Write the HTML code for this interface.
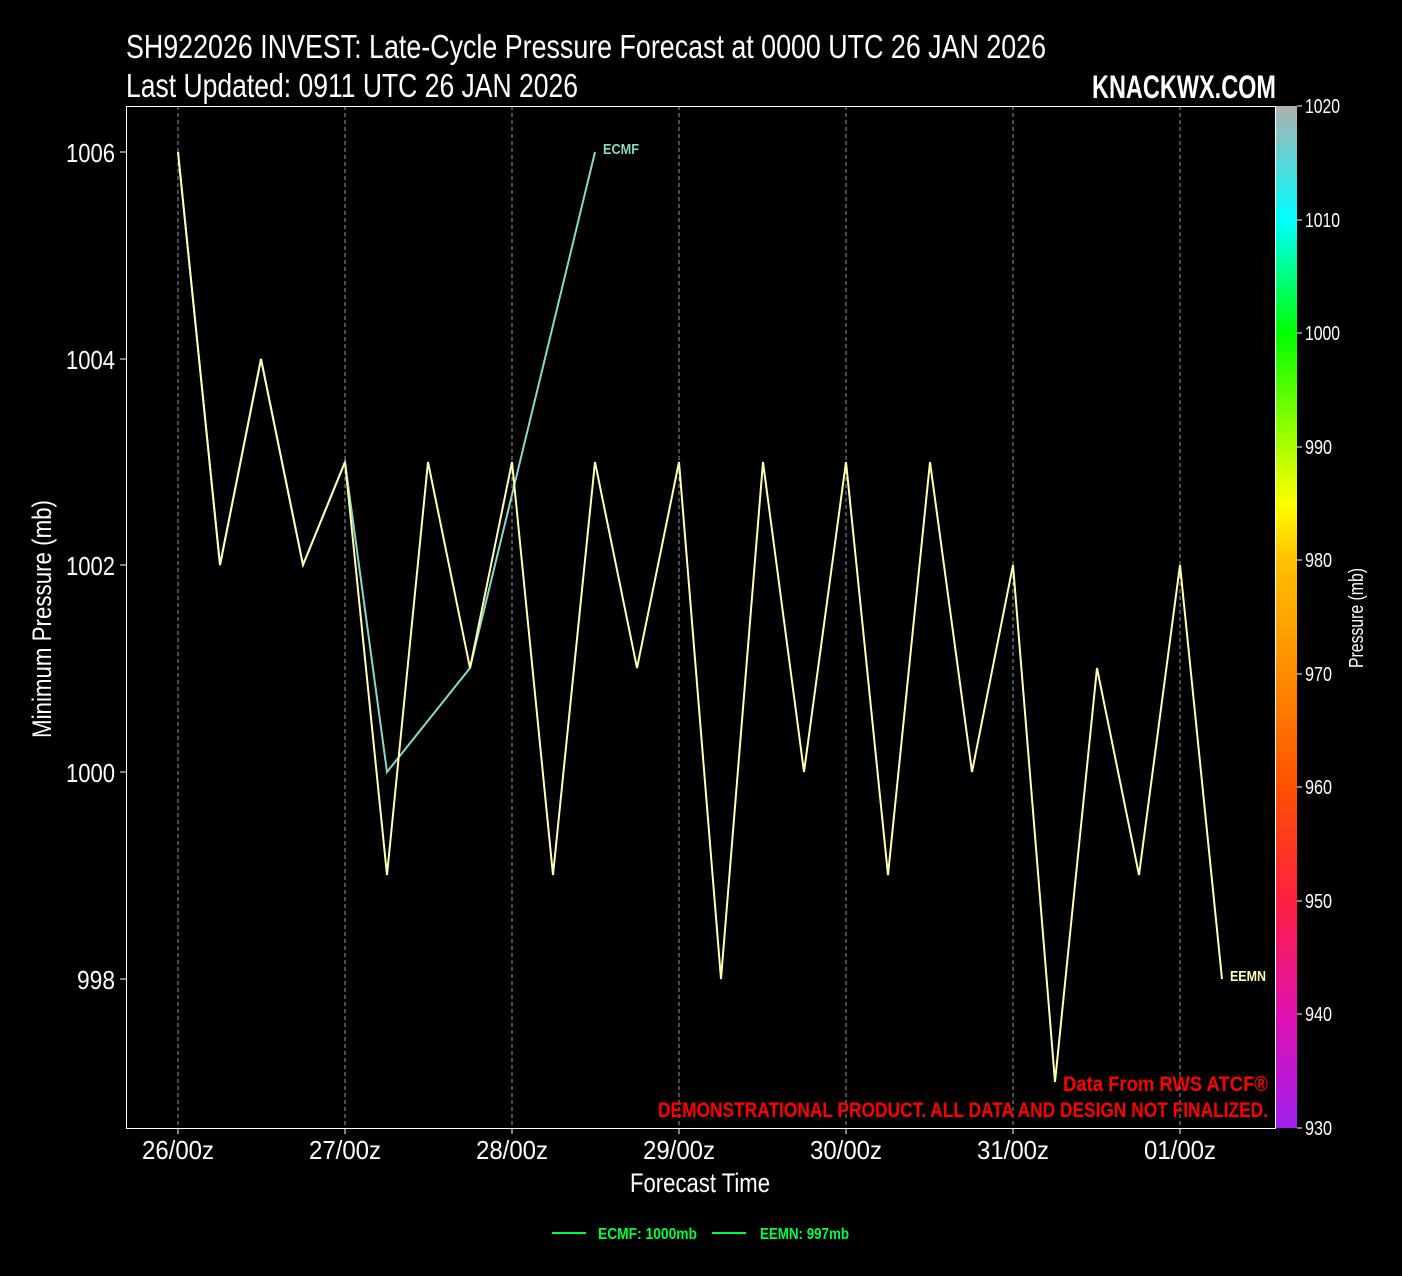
<!DOCTYPE html>
<html><head><meta charset="utf-8"><style>
html,body{margin:0;padding:0;background:#000;}
svg{display:block;}
text{font-family:"Liberation Sans Narrow","Liberation Sans",sans-serif;}
</style></head><body>
<svg width="1402" height="1276" viewBox="0 0 1402 1276" xmlns="http://www.w3.org/2000/svg">
<defs>
<linearGradient id="cb" x1="0" y1="1" x2="0" y2="0">
<stop offset="0" stop-color="#a020f0"/>
<stop offset="0.111" stop-color="#e010b0"/>
<stop offset="0.222" stop-color="#ff2040"/>
<stop offset="0.333" stop-color="#ff5000"/>
<stop offset="0.444" stop-color="#ff8c00"/>
<stop offset="0.556" stop-color="#ffc000"/>
<stop offset="0.611" stop-color="#ffff00"/>
<stop offset="0.778" stop-color="#00ff00"/>
<stop offset="0.889" stop-color="#00ffff"/>
<stop offset="1" stop-color="#b0b0b0"/>
</linearGradient>
</defs>
<rect width="1402" height="1276" fill="#000"/>
<text x="126" y="58" fill="#fff" font-size="33" textLength="920" lengthAdjust="spacingAndGlyphs">SH922026 INVEST: Late-Cycle Pressure Forecast at 0000 UTC 26 JAN 2026</text>
<text x="126" y="97" fill="#fff" font-size="33" textLength="452" lengthAdjust="spacingAndGlyphs">Last Updated: 0911 UTC 26 JAN 2026</text>
<text x="1092" y="98" fill="#fff" font-size="32" font-weight="bold" textLength="184" lengthAdjust="spacingAndGlyphs">KNACKWX.COM</text>
<g stroke="#999" stroke-dasharray="4,3" stroke-width="1">
<line x1="178" y1="106" x2="178" y2="1128"/><line x1="345" y1="106" x2="345" y2="1128"/>
<line x1="512" y1="106" x2="512" y2="1128"/><line x1="679" y1="106" x2="679" y2="1128"/>
<line x1="846" y1="106" x2="846" y2="1128"/><line x1="1013" y1="106" x2="1013" y2="1128"/>
<line x1="1180" y1="106" x2="1180" y2="1128"/>
</g>
<rect x="126.5" y="106.5" width="1149" height="1022" fill="none" stroke="#fff" stroke-width="1"/>
<g stroke="#fff"><line x1="120" y1="152" x2="126" y2="152"/><line x1="120" y1="359" x2="126" y2="359"/><line x1="120" y1="565" x2="126" y2="565"/><line x1="120" y1="772" x2="126" y2="772"/><line x1="120" y1="979" x2="126" y2="979"/>
<line x1="178" y1="1128" x2="178" y2="1134"/><line x1="345" y1="1128" x2="345" y2="1134"/><line x1="512" y1="1128" x2="512" y2="1134"/><line x1="679" y1="1128" x2="679" y2="1134"/><line x1="846" y1="1128" x2="846" y2="1134"/><line x1="1013" y1="1128" x2="1013" y2="1134"/><line x1="1180" y1="1128" x2="1180" y2="1134"/></g>
<g fill="#fff" font-size="26">
<text x="66" y="162" textLength="49" lengthAdjust="spacingAndGlyphs">1006</text><text x="66" y="369" textLength="49" lengthAdjust="spacingAndGlyphs">1004</text><text x="66" y="575" textLength="49" lengthAdjust="spacingAndGlyphs">1002</text><text x="66" y="782" textLength="49" lengthAdjust="spacingAndGlyphs">1000</text><text x="77" y="989" textLength="38" lengthAdjust="spacingAndGlyphs">998</text></g>
<g fill="#fff" font-size="26">
<text x="142" y="1159" textLength="72" lengthAdjust="spacingAndGlyphs">26/00z</text><text x="309" y="1159" textLength="72" lengthAdjust="spacingAndGlyphs">27/00z</text><text x="476" y="1159" textLength="72" lengthAdjust="spacingAndGlyphs">28/00z</text><text x="643" y="1159" textLength="72" lengthAdjust="spacingAndGlyphs">29/00z</text><text x="810" y="1159" textLength="72" lengthAdjust="spacingAndGlyphs">30/00z</text><text x="977" y="1159" textLength="72" lengthAdjust="spacingAndGlyphs">31/00z</text><text x="1144" y="1159" textLength="72" lengthAdjust="spacingAndGlyphs">01/00z</text></g>
<text x="630" y="1192" fill="#fff" font-size="27" textLength="140" lengthAdjust="spacingAndGlyphs">Forecast Time</text>
<text transform="translate(51,738) rotate(-90)" fill="#fff" font-size="27" textLength="238" lengthAdjust="spacingAndGlyphs">Minimum Pressure (mb)</text>
<polyline fill="none" stroke="#88d8c8" stroke-width="2" points="178,152 220,565 261,359 303,565 345,462 387,772 470,668 595,152"/>
<polyline fill="none" stroke="#ffffb0" stroke-width="2" points="178,152 220,565 261,359 303,565 345,462 387,875 428,462 470,668 512,462 553,875 595,462 637,668 679,462 721,979 763,462 804,772 846,462 888,875 930,462 972,772 1013,565 1055,1082 1097,668 1139,875 1180,565 1222,979"/>
<text x="603" y="154" fill="#88d8c8" font-size="15" font-weight="bold" textLength="36" lengthAdjust="spacingAndGlyphs">ECMF</text>
<text x="1230" y="981" fill="#ffffb0" font-size="15" font-weight="bold" textLength="36" lengthAdjust="spacingAndGlyphs">EEMN</text>
<g fill="#ff0000" font-size="21" font-weight="bold"><text x="1063" y="1091" textLength="205" lengthAdjust="spacingAndGlyphs">Data From RWS ATCF®</text><text x="658" y="1117" textLength="610" lengthAdjust="spacingAndGlyphs">DEMONSTRATIONAL PRODUCT. ALL DATA AND DESIGN NOT FINALIZED.</text></g>
<rect x="1276" y="106" width="21" height="1022" fill="url(#cb)"/>
<g stroke="#fff"><line x1="1297" y1="106" x2="1302" y2="106"/><line x1="1297" y1="220" x2="1302" y2="220"/><line x1="1297" y1="333" x2="1302" y2="333"/><line x1="1297" y1="447" x2="1302" y2="447"/><line x1="1297" y1="560" x2="1302" y2="560"/><line x1="1297" y1="674" x2="1302" y2="674"/><line x1="1297" y1="787" x2="1302" y2="787"/><line x1="1297" y1="901" x2="1302" y2="901"/><line x1="1297" y1="1014" x2="1302" y2="1014"/><line x1="1297" y1="1128" x2="1302" y2="1128"/></g>
<g fill="#fff" font-size="20">
<text x="1305" y="113" textLength="35" lengthAdjust="spacingAndGlyphs">1020</text><text x="1305" y="227" textLength="35" lengthAdjust="spacingAndGlyphs">1010</text><text x="1305" y="340" textLength="35" lengthAdjust="spacingAndGlyphs">1000</text><text x="1305" y="454" textLength="27" lengthAdjust="spacingAndGlyphs">990</text><text x="1305" y="567" textLength="27" lengthAdjust="spacingAndGlyphs">980</text><text x="1305" y="681" textLength="27" lengthAdjust="spacingAndGlyphs">970</text><text x="1305" y="794" textLength="27" lengthAdjust="spacingAndGlyphs">960</text><text x="1305" y="908" textLength="27" lengthAdjust="spacingAndGlyphs">950</text><text x="1305" y="1021" textLength="27" lengthAdjust="spacingAndGlyphs">940</text><text x="1305" y="1135" textLength="27" lengthAdjust="spacingAndGlyphs">930</text></g>
<text transform="translate(1363,668) rotate(-90)" fill="#fff" font-size="20" textLength="100" lengthAdjust="spacingAndGlyphs">Pressure (mb)</text>
<line x1="552" y1="1233" x2="586" y2="1233" stroke="#00ff40" stroke-width="2"/>
<text x="598" y="1239" fill="#00ff40" font-size="16" font-weight="bold" textLength="99" lengthAdjust="spacingAndGlyphs">ECMF: 1000mb</text>
<line x1="712" y1="1233" x2="746" y2="1233" stroke="#00ff40" stroke-width="2"/>
<text x="760" y="1239" fill="#00ff40" font-size="16" font-weight="bold" textLength="89" lengthAdjust="spacingAndGlyphs">EEMN: 997mb</text>
</svg>
</body></html>
